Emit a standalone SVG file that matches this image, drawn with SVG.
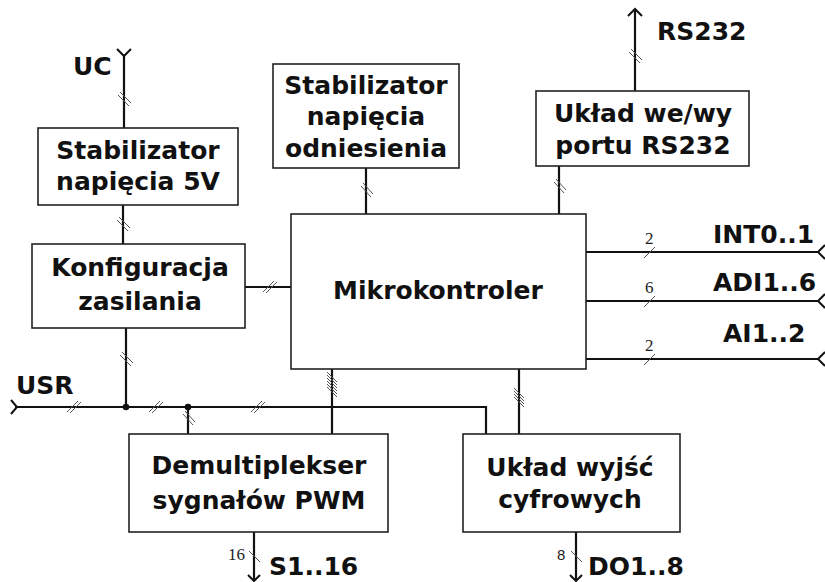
<svg xmlns="http://www.w3.org/2000/svg" width="825" height="582" viewBox="0 0 825 582">
<style>
.box{fill:#fff;stroke:#222;stroke-width:1.6}
.t{font-family:"DejaVu Sans",Verdana,sans-serif;font-weight:bold;font-size:25px;fill:#111;text-anchor:middle}
.lbl{font-family:"DejaVu Sans",Verdana,sans-serif;font-weight:bold;font-size:25px;fill:#111}
.w{fill:none;stroke:#111;stroke-width:2.2}
.h{fill:none;stroke:#555;stroke-width:1}
.n{font-family:"Liberation Serif",serif;font-size:17px;fill:#222}
.ns{font-family:"Liberation Sans",sans-serif;font-size:15px;fill:#222}
.ar{fill:none;stroke:#111;stroke-width:2}
</style>
<rect width="825" height="582" fill="#fff"/>
<g id="connectors">
  <path class="w" d="M124,55 V128"/>
  <path class="ar" d="M117,49 L124,56 L131,49"/>
  <path class="h" d="M118,95 L129,106 M120,92 L131,103"/>
  <path class="w" d="M123,205 V244"/>
  <path class="h" d="M117,220 L128,231 M119,217 L130,228"/>
  <path class="w" d="M245,287 H291"/>
  <path class="h" d="M263,292 L274,281 M266,293 L277,282"/>
  <path class="w" d="M126,328 V407"/>
  <path class="h" d="M120,355 L131,366 M122,352 L133,363"/>
  <path class="w" d="M15,407 H486 V434"/>
  <path class="ar" d="M11,400 L17,407 L11,414"/>
  <path class="h" d="M67,412 L78,401 M70,413 L81,402"/>
  <path class="h" d="M149,412 L160,401 M152,413 L163,402"/>
  <path class="h" d="M251,412 L262,401 M254,413 L265,402"/>
  <circle cx="126" cy="407" r="3.3" fill="#111"/>
  <circle cx="188" cy="407" r="3.3" fill="#111"/>
  <path class="w" d="M188,407 V434"/>
  <path class="h" d="M183,414 L193,425 M185,411 L195,422"/>
  <path class="w" d="M366,168 V214"/>
  <path class="h" d="M361,186 L371,197 M363,183 L373,194"/>
  <path class="w" d="M559,166 V214"/>
  <path class="h" d="M554,182 L564,193 M556,179 L566,190"/>
  <path class="w" d="M635,91 V9"/>
  <path class="ar" d="M628,16 L635,9 L642,16"/>
  <path class="h" d="M629,52 L640,63 M631,49 L642,60"/>
  <path class="w" d="M332,369 V434"/>
  <path class="h" d="M327,372 L337,382 M327,375 L337,385 M327,378 L337,388 M327,381 L337,391 M327,384 L337,394 M327,387 L337,397"/>
  <path class="w" d="M519,369 V434"/>
  <path class="h" d="M514,388 L524,398 M514,391 L524,401 M514,394 L524,404 M514,397 L524,407"/>
  <path class="w" d="M586,252 H819"/>
  <path class="ar" d="M825,245 L818,252 L825,259"/>
  <path class="h" d="M644,258 L655,247"/>
  <text class="n" x="645" y="244">2</text>
  <path class="w" d="M586,301 H819"/>
  <path class="ar" d="M825,294 L818,301 L825,308"/>
  <path class="h" d="M644,307 L655,296"/>
  <text class="n" x="645" y="293">6</text>
  <path class="w" d="M586,359 H819"/>
  <path class="ar" d="M825,352 L818,359 L825,366"/>
  <path class="h" d="M644,365 L655,354"/>
  <text class="n" x="645" y="351">2</text>
  <path class="w" d="M254,532 V580"/>
  <path class="ar" d="M248,575 L254,581 L260,575"/>
  <path class="h" d="M249,551 L260,562"/>
  <text class="n" x="228" y="560">16</text>
  <path class="w" d="M576,532 V580"/>
  <path class="ar" d="M570,575 L576,581 L582,575"/>
  <path class="h" d="M571,551 L582,562"/>
  <text class="ns" x="557" y="560">8</text>
</g>
<g id="labels">
  <text class="lbl" x="73" y="75">UC</text>
  <text class="lbl" x="657" y="40">RS232</text>
  <text class="lbl" x="16" y="394">USR</text>
  <text class="lbl" x="713" y="243">INT0..1</text>
  <text class="lbl" x="713" y="291">ADI1..6</text>
  <text class="lbl" x="723" y="342">AI1..2</text>
  <text class="lbl" x="269" y="575">S1..16</text>
  <text class="lbl" x="588" y="575">DO1..8</text>
</g>
<g id="stab5v">
  <rect class="box" x="38" y="128" width="200" height="77"/>
  <text class="t" x="138" y="159">Stabilizator</text>
  <text class="t" x="138" y="190">napięcia 5V</text>
</g>
<g id="konfig">
  <rect class="box" x="32" y="244" width="213" height="84"/>
  <text class="t" x="140" y="276">Konfiguracja</text>
  <text class="t" x="140" y="310">zasilania</text>
</g>
<g id="stabref">
  <rect class="box" x="273" y="64" width="186" height="104"/>
  <text class="t" x="366" y="94">Stabilizator</text>
  <text class="t" x="366" y="125">napięcia</text>
  <text class="t" x="366" y="157">odniesienia</text>
</g>
<g id="rs232io">
  <rect class="box" x="536" y="91" width="213" height="75"/>
  <text class="t" x="643" y="122">Układ we/wy</text>
  <text class="t" x="643" y="154">portu RS232</text>
</g>
<g id="mcu">
  <rect class="box" x="291" y="214" width="295" height="155"/>
  <text class="t" x="438" y="299">Mikrokontroler</text>
</g>
<g id="demux">
  <rect class="box" x="129" y="434" width="259" height="98"/>
  <text class="t" x="259" y="474">Demultiplekser</text>
  <text class="t" x="259" y="509">sygnałów PWM</text>
</g>
<g id="dout">
  <rect class="box" x="463" y="434" width="217" height="98"/>
  <text class="t" x="570" y="476">Układ wyjść</text>
  <text class="t" x="570" y="508">cyfrowych</text>
</g>
</svg>
